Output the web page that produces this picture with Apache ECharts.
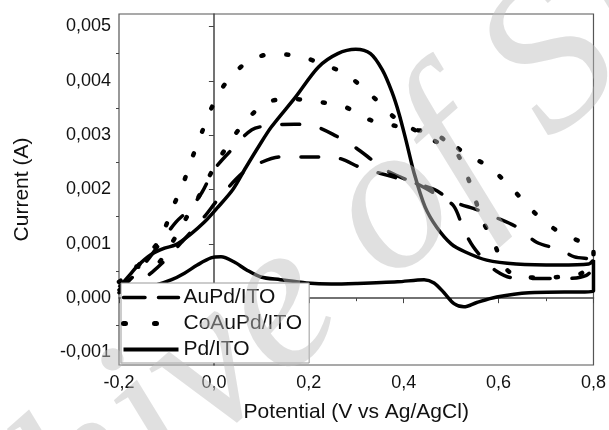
<!DOCTYPE html>
<html>
<head>
<meta charset="utf-8">
<script src="https://cdn.jsdelivr.net/npm/echarts@6/dist/echarts.min.js"></script>
<style>
  html, body { margin: 0; padding: 0; background: #fff; }
  #chart { width: 609px; height: 430px; }
</style>
</head>
<body>
<div id="chart"></div>
<script>
// AuPd/ITO : forward scan then reverse scan
var auPdX = [-0.2, -0.17, -0.14, -0.11, -0.08, -0.05, -0.025, 0.0, 0.036, 0.08, 0.12, 0.17, 0.21, 0.25, 0.297, 0.34, 0.37, 0.424, 0.465, 0.506, 0.554, 0.59, 0.64, 0.68, 0.73, 0.76, 0.8,
             0.8, 0.785, 0.74, 0.68, 0.625, 0.595, 0.57, 0.547, 0.527, 0.505, 0.47, 0.424, 0.39, 0.35, 0.31, 0.26, 0.2, 0.14, 0.1, 0.06, 0.007, -0.02, -0.068, -0.098, -0.13, -0.165, -0.2];
var auPdY = [0.00015, 0.0004, 0.0007, 0.00105, 0.0014, 0.00165, 0.00195, 0.00236, 0.00272, 0.0031, 0.00318, 0.0032, 0.00317, 0.00302, 0.00278, 0.0025, 0.00232, 0.00212, 0.002, 0.00177, 0.00163, 0.0015, 0.0013, 0.00103, 0.00089, 0.00076, 0.0007,
             0.0006, 0.00042, 0.00036, 0.00036, 0.00038, 0.0005, 0.0007, 0.00094, 0.00125, 0.0017, 0.0019, 0.00212, 0.0022, 0.0023, 0.0024, 0.00258, 0.0026, 0.0026, 0.0025, 0.0023, 0.0018, 0.0015, 0.00103, 0.00074, 0.00048, 0.00025, 0.0001];

// CoAuPd/ITO
var coAuPdX = [-0.2, -0.17, -0.14, -0.12, -0.105, -0.085, -0.064, -0.045, -0.025, -0.004, 0.025, 0.071, 0.121, 0.176, 0.226, 0.278, 0.33, 0.38, 0.43, 0.474, 0.506, 0.527, 0.579, 0.627, 0.675, 0.727, 0.779, 0.8,
               0.8, 0.775, 0.742, 0.69, 0.64, 0.61, 0.591, 0.564, 0.547, 0.529, 0.51, 0.48, 0.453, 0.42, 0.378, 0.326, 0.276, 0.224, 0.172, 0.119, 0.069, 0.032, 0.0, -0.03, -0.06, -0.09, -0.125, -0.16, -0.19, -0.2];
var coAuPdY = [0.0003, 0.0005, 0.0008, 0.001, 0.00125, 0.0017, 0.00213, 0.0026, 0.00306, 0.00352, 0.00396, 0.00435, 0.00449, 0.00446, 0.00432, 0.00412, 0.00375, 0.00333, 0.00306, 0.00286, 0.00281, 0.00267, 0.00242, 0.00203, 0.00158, 0.00122, 0.00102, 0.00095,
               0.00075, 0.00046, 0.0004, 0.00038, 0.0004, 0.0006, 0.00101, 0.00147, 0.00193, 0.00236, 0.0027, 0.00295, 0.00306, 0.0031, 0.00318, 0.00329, 0.00352, 0.00361, 0.00366, 0.00363, 0.00328, 0.00285, 0.0024, 0.0019, 0.00145, 0.001, 0.0006, 0.00058, 0.00067, 0.0007];

// Pd/ITO
var pdX = [-0.2, -0.181, -0.16, -0.133, -0.104, -0.081, -0.05, -0.02, 0.007, 0.04, 0.067, 0.095, 0.121, 0.172, 0.22, 0.261, 0.299, 0.33, 0.355, 0.375, 0.39, 0.405, 0.422, 0.445, 0.47, 0.5, 0.53, 0.575, 0.637, 0.727, 0.79, 0.8,
           0.8, 0.664, 0.596, 0.554, 0.527, 0.506, 0.485, 0.464, 0.443, 0.387, 0.3, 0.247, 0.195, 0.14, 0.099, 0.069, 0.042, 0.015, -0.006, -0.035, -0.062, -0.089, -0.12, -0.16, -0.2];
var pdY = [0.0002, 0.00039, 0.0006, 0.0008, 0.00092, 0.00098, 0.00117, 0.0014, 0.00166, 0.002, 0.0024, 0.0028, 0.00315, 0.0037, 0.00425, 0.0045, 0.00458, 0.0045, 0.0042, 0.0038, 0.0034, 0.0029, 0.0023, 0.00168, 0.0013, 0.001, 0.00085, 0.0007, 0.00063, 0.00061, 0.00063, 0.0007,
           0.00013, 0.0001, 0.00002, -0.00008, -0.00016, -0.0001, 0.0001, 0.00028, 0.00034, 0.0003, 0.00027, 0.00026, 0.00028, 0.00034, 0.00039, 0.00052, 0.00067, 0.00076, 0.00074, 0.00061, 0.00046, 0.00034, 0.00025, 0.0002, 0.0002];

var yLabelValues = [-0.001, 0, 0.001, 0.002, 0.003, 0.004, 0.005];
var yMinorValues = [-0.0005, 0.0005, 0.0015, 0.0025, 0.0035, 0.0045];

function pairs(xs, ys) {
  var out = [];
  for (var i = 0; i < xs.length; i++) out.push([xs[i], ys[i]]);
  return out;
}

var font = '"Liberation Sans", Arial, sans-serif';
var myChart = echarts.init(document.getElementById('chart'));
var option = {
  animation: false,
  backgroundColor: '#fff',
  grid: { left: 119, right: 11, top: 14, bottom: 65, show: true, borderColor: '#555', borderWidth: 1.2 },
  legend: {
    orient: 'vertical',
    left: 121, top: 283,
    padding: [4, 7, 3, 0],
    itemWidth: 55, itemHeight: 14, itemGap: 5,
    backgroundColor: '#fff',
    borderColor: '#999', borderWidth: 1,
    itemStyle: { opacity: 0 },
    textStyle: { fontFamily: font, fontSize: 21, color: '#111' },
    data: [
      { name: 'AuPd/ITO', lineStyle: { type: [21.5, 13.5], cap: 'round', width: 3.5 } },
      { name: 'CoAuPd/ITO', lineStyle: { type: [2, 29], cap: 'round', width: 5 } },
      { name: 'Pd/ITO', lineStyle: { width: 4 } }
    ]
  },
  xAxis: {
    type: 'value', min: -0.2, max: 0.8, interval: 0.2,
    name: 'Potential (V vs Ag/AgCl)', nameLocation: 'middle', nameGap: 37,
    nameTextStyle: { fontFamily: font, fontSize: 21, color: '#111' },
    axisLine: { lineStyle: { color: '#444', width: 1.5 } },
    axisTick: { length: 5, lineStyle: { color: '#444' } },
    minorTick: { show: true, splitNumber: 2, length: 3, lineStyle: { color: '#444' } },
    axisLabel: { margin: 9, fontFamily: font, fontSize: 18, color: '#111',
      formatter: function (v) { return v.toFixed(1).replace('.', ','); } },
    splitLine: { show: false }
  },
  yAxis: [{
    type: 'value', min: -0.00123, max: 0.00523,
    name: 'Current (A)', nameLocation: 'middle', nameGap: 86,
    nameTextStyle: { fontFamily: font, fontSize: 21, color: '#111' },
    axisLine: { show: true, lineStyle: { color: '#444', width: 1.5 } },
    axisTick: { show: true, length: 5, customValues: yLabelValues, lineStyle: { color: '#444' } },
    axisLabel: { margin: 8, fontFamily: font, fontSize: 18, color: '#111', customValues: yLabelValues,
      formatter: function (v) { return v.toFixed(3).replace('.', ','); } },
    splitLine: { show: false }
  }, {
    type: 'value', position: 'left', min: -0.00123, max: 0.00523,
    axisLine: { show: false },
    axisTick: { show: true, length: 3, customValues: yMinorValues, lineStyle: { color: '#444' } },
    axisLabel: { show: false, customValues: yMinorValues },
    splitLine: { show: false }
  }],
  series: [{
    name: 'AuPd/ITO', type: 'line', symbol: 'none', smooth: 0.3,
    data: pairs(auPdX, auPdY),
    itemStyle: { color: '#000' },
    lineStyle: { color: '#000', width: 3.5, type: [18, 22], cap: 'round' }
  }, {
    name: 'CoAuPd/ITO', type: 'line', symbol: 'none', smooth: 0.3,
    data: pairs(coAuPdX, coAuPdY),
    itemStyle: { color: '#000' },
    lineStyle: { color: '#000', width: 4.5, type: [2, 23], cap: 'round' }
  }, {
    name: 'Pd/ITO', type: 'line', symbol: 'none', smooth: 0.3,
    data: pairs(pdX, pdY),
    itemStyle: { color: '#000' },
    lineStyle: { color: '#000', width: 3.5 }
  }],
  graphic: [{
    type: 'text', x: -170, y: 706, rotation: 0.724, z: 100, silent: true,
    style: { text: 'Archive of SID', font: 'italic 210px "Liberation Serif", serif',
      fill: 'rgb(190,190,190)', opacity: 0.48, align: 'left', verticalAlign: 'middle' }
  }]
};
myChart.setOption(option);
</script>
</body>
</html>
